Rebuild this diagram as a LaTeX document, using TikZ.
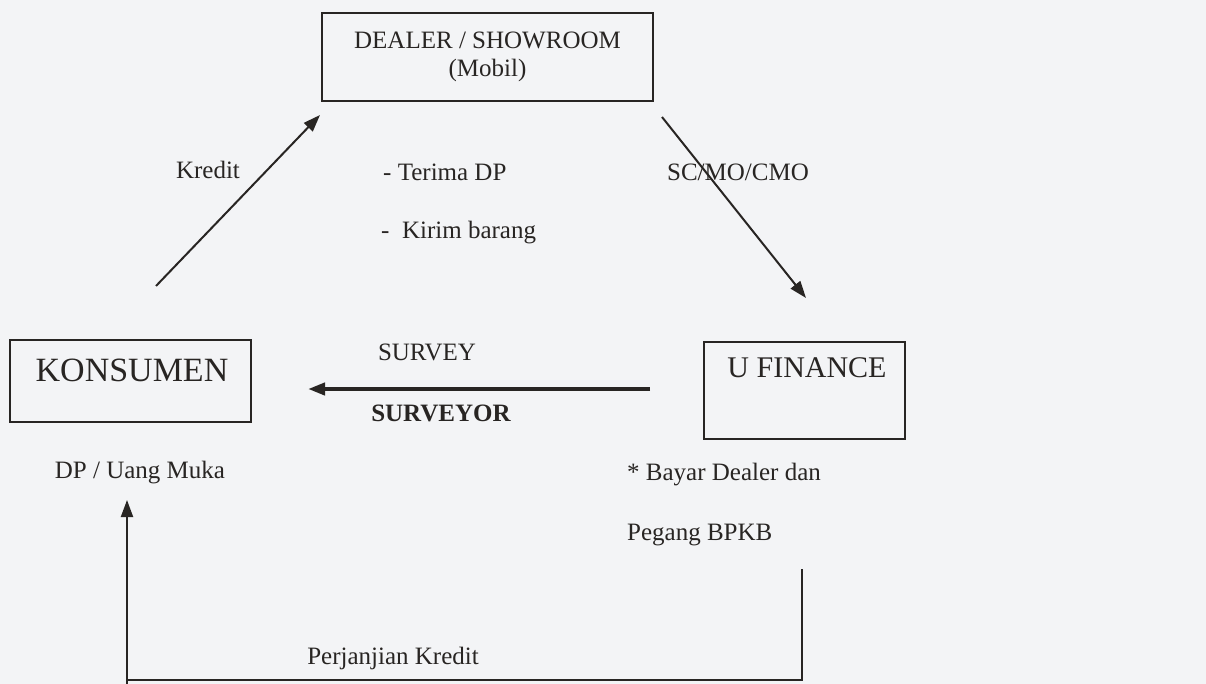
\documentclass[tikz,border=0pt]{standalone}
\usepackage{fontspec}
\setmainfont{Liberation Serif}
\usetikzlibrary{arrows.meta}
\definecolor{paper}{RGB}{243,244,246}
\definecolor{ink}{RGB}{40,37,35}
\begin{document}
\begin{tikzpicture}[x=1pt,y=-1pt,
    font=\fontsize{25}{28}\selectfont, text=ink,
    kotak/.style={draw=ink, line width=2pt, inner sep=0pt},
    teks/.style={inner sep=0pt},
    panah/.style={draw=ink, line width=2pt, -{Triangle[length=17pt,width=12pt]}},
    garis/.style={draw=ink, line width=2pt}]
\fill[paper] (0,0) rectangle (1206,684);
\useasboundingbox (0,0) rectangle (1206,684);

% kotak
\node[kotak, minimum width=331, minimum height=88, align=center] (dealer) at (487.5,57) {DEALER / SHOWROOM\\(Mobil)};
\node[kotak, minimum width=241, minimum height=82] (konsumen) at (130.5,381) {};
\node[teks, font=\fontsize{34}{38}\selectfont] (konsumentxt) at (132,370) {KONSUMEN};
\node[kotak, minimum width=201, minimum height=97] (ufinance) at (804.5,390.5) {};
\node[teks, font=\fontsize{30}{34}\selectfont] (ufinancetxt) at (807,368) {U FINANCE};

% label
\node[teks] (kredit) at (208,170) {Kredit};
\node[teks, anchor=west] (terimadp) at (383,172) {- Terima DP};
\node[teks, anchor=west] (kirimbarang) at (381,233) {-\ \ Kirim barang};
\node[teks] (scmo) at (738,172) {SC/MO/CMO};
\node[teks] (survey) at (427,352) {SURVEY};
\node[teks, font=\bfseries\fontsize{25}{28}\selectfont] (surveyor) at (441,413) {SURVEYOR};
\node[teks] (dpuang) at (140,473) {DP / Uang Muka};
\node[teks, anchor=west] (bayar) at (627,475) {* Bayar Dealer dan};
\node[teks, anchor=west] (pegang) at (627,535) {Pegang BPKB};
\node[teks] (perjanjian) at (393,658) {Perjanjian Kredit};

% ujung panah
\coordinate (k1) at (156,286);
\coordinate (k2) at (320,115);
\coordinate (s1) at (662,117);
\coordinate (s2) at (806,298);
\coordinate (v1) at (650,389);
\coordinate (v2) at (308,389);
\coordinate (d1) at (127,684);
\coordinate (d2) at (127,500);
\coordinate (p1) at (802,569);
\coordinate (p2) at (802,680);
\coordinate (p3) at (127,680);

\draw[panah] (k1) -- (k2);
\draw[panah] (s1) -- (s2);
\draw[panah, line width=4pt] (v1) -- (v2);
\draw[panah] (d1) -- (d2);
\draw[garis] (p1) -- (p2) -- (p3);

\end{tikzpicture}
\end{document}
